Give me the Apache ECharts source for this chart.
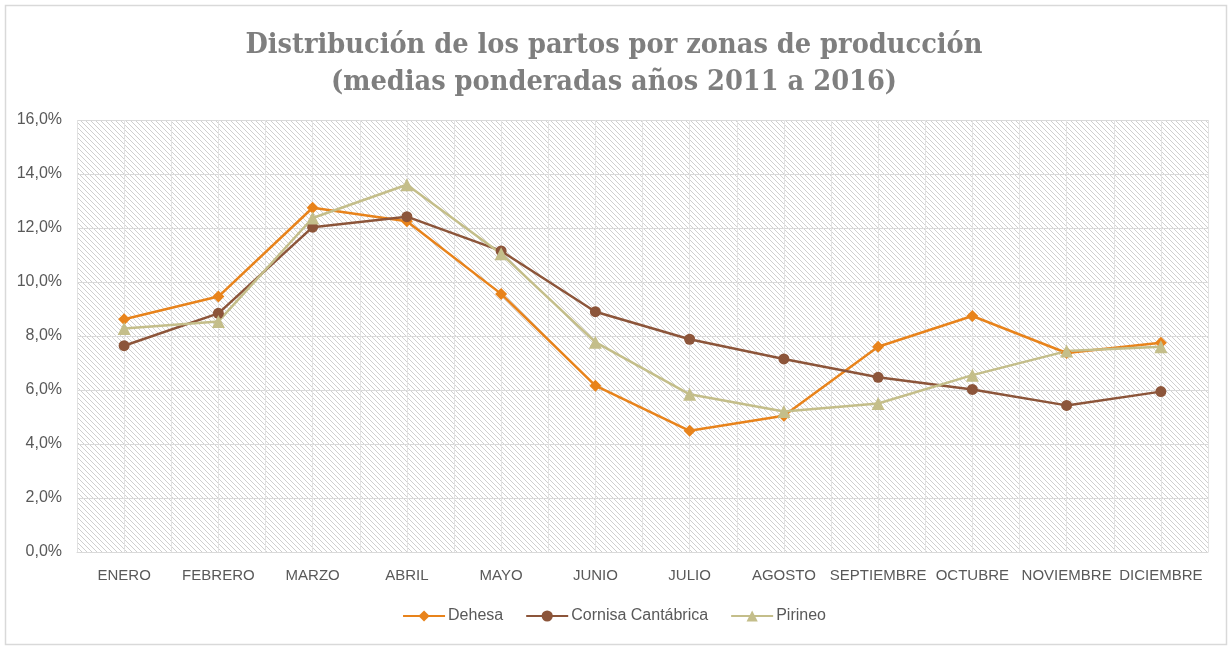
<!DOCTYPE html>
<html>
<head>
<meta charset="utf-8">
<script src="https://cdn.jsdelivr.net/npm/echarts@6/dist/echarts.min.js"></script>
<style>
  html, body { margin: 0; padding: 0; background: #fff; }
  #chart { width: 1228px; height: 646px; }
</style>
</head>
<body>
<div id="chart"></div>
<script>
// Months of the year
const months = ['ENERO', 'FEBRERO', 'MARZO', 'ABRIL', 'MAYO', 'JUNIO', 'JULIO',
  'AGOSTO', 'SEPTIEMBRE', 'OCTUBRE', 'NOVIEMBRE', 'DICIEMBRE'];

// Share of births per month (%) for each production zone
const dehesa = [8.62, 9.46, 12.75, 12.25, 9.56, 6.16, 4.49, 5.05, 7.60, 8.74, 7.37, 7.75];
const cornisa = [7.64, 8.84, 12.03, 12.42, 11.15, 8.90, 7.88, 7.15, 6.47, 6.02, 5.43, 5.94];
const pirineo = [8.28, 8.54, 12.37, 13.60, 11.05, 7.77, 5.84, 5.20, 5.50, 6.55, 7.44, 7.60];

const yTicks = { min: 0, max: 16, step: 2 };

// Diagonal hatch used as the plot background
function hatch() {
  const s = 5;
  const c = document.createElement('canvas');
  c.width = s; c.height = s;
  const g = c.getContext('2d');
  g.fillStyle = '#ffffff';
  g.fillRect(0, 0, s, s);
  g.fillStyle = '#cfcfcf';
  for (let i = 0; i < s; i++) g.fillRect(i, i, 1, 1);
  return c;
}

const chart = echarts.init(document.getElementById('chart'));
const sans = 'Liberation Sans, Arial, sans-serif';

function line(name, data, color, symbol, size) {
  return {
    name, type: 'line', data, xAxisIndex: 0, yAxisIndex: 0,
    symbol, symbolSize: size,
    lineStyle: { color, width: 2.5 },
    itemStyle: { color },
    z: 3
  };
}

chart.setOption({
  animation: false,
  backgroundColor: '#ffffff',
  title: {
    text: 'Distribución de los partos por zonas de producción\n(medias ponderadas años 2011 a 2016)',
    left: 'center', top: 22,
    textStyle: {
      fontFamily: 'DejaVu Serif Condensed, Liberation Serif, serif', fontWeight: 'bold',
      fontSize: 28.6, lineHeight: 37, color: '#7f7f7f'
    }
  },
  legend: {
    bottom: 17, left: 'center',
    itemWidth: 42, itemHeight: 14, itemGap: 22,
    textStyle: { color: '#595959', fontSize: 16, fontFamily: sans, padding: [0, 0, 0, -2] },
    data: ['Dehesa', 'Cornisa Cantábrica', 'Pirineo']
  },
  graphic: [{
    type: 'rect', left: 3, top: 3, z: -1,
    shape: { width: 1221, height: 639 },
    style: { fill: 'none', stroke: '#d9d9d9', lineWidth: 1.5 }
  }],
  grid: {
    left: 77, right: 20, top: 120, bottom: 94,
    show: true, borderWidth: 0,
    backgroundColor: { image: hatch(), repeat: 'repeat' }
  },
  xAxis: [{
    type: 'category', data: months, boundaryGap: true,
    axisLine: { lineStyle: { color: '#d9d9d9', width: 1 } },
    axisTick: { show: false },
    axisLabel: { margin: 16, interval: 0, color: '#595959', fontSize: 15, fontFamily: sans },
    splitLine: { show: false }
  }, {
    // half-month grid used for the vertical rules
    type: 'value', min: 0, max: months.length * 2, interval: 1,
    show: true, position: 'bottom',
    axisLine: { show: false }, axisTick: { show: false }, axisLabel: { show: false },
    splitLine: { show: true, lineStyle: { color: '#e2e2e2', width: 1 } }
  }],
  yAxis: {
    type: 'value', min: yTicks.min, max: yTicks.max, interval: yTicks.step,
    axisLine: { show: false }, axisTick: { show: false },
    axisLabel: {
      margin: 15, color: '#595959', fontSize: 16, fontFamily: sans,
      formatter: v => v.toFixed(1).replace('.', ',') + '%'
    },
    splitLine: { lineStyle: { color: '#d9d9d9', width: 1 } }
  },
  series: [
    line('Dehesa', dehesa, '#E8831B', 'diamond', 12),
    line('Cornisa Cantábrica', cornisa, '#8C553A', 'circle', 11),
    line('Pirineo', pirineo, '#C4BE8A', 'triangle', 13)
  ]
});
</script>
</body>
</html>
